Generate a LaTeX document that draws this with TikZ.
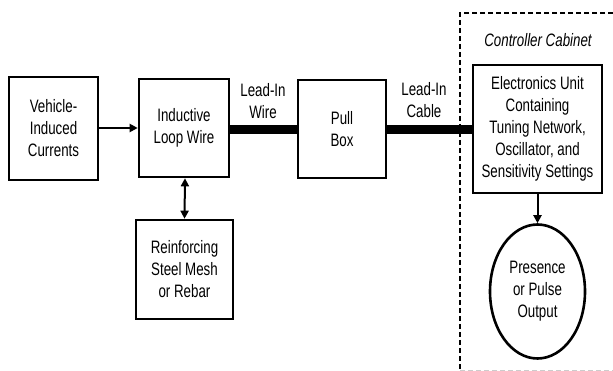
\documentclass[tikz,border=0pt]{standalone}
\usepackage{fontspec}
\setmainfont{Liberation Sans}[FakeStretch=0.74]
\usetikzlibrary{arrows.meta,shapes.geometric}
\begin{document}
\begin{tikzpicture}[x=1pt,y=-1pt,
  blk/.style={draw,line width=2.6pt,rectangle,inner sep=0pt,align=center,font=\fontsize{18}{22}\selectfont},
  lbl/.style={align=center,font=\fontsize{18}{22}\selectfont,inner sep=0pt},
  thin/.style={line width=2pt,-{Triangle[length=8pt,width=8pt]}},
  bar/.style={line width=9pt},
  cab/.style={line width=2pt,dash pattern=on 5pt off 3pt}]
\useasboundingbox (0,0) rectangle (613,371);
\node[blk,minimum width=89pt,minimum height=103pt] (veh) at (53.5,128.5) {Vehicle-\\Induced\\Currents};
\node[blk,minimum width=90pt,minimum height=98pt] (loop) at (184,128) {Inductive\\Loop Wire};
\node[blk,minimum width=88pt,minimum height=98pt] (pull) at (342,129) {Pull\\Box};
\node[blk,minimum width=129pt,minimum height=128pt] (elec) at (537.5,129) {Electronics Unit\\Containing\\Tuning Network,\\Oscillator, and\\Sensitivity Settings};
\node[blk,minimum width=97pt,minimum height=99pt] (reinf) at (184.5,269.5) {Reinforcing\\Steel Mesh\\or Rebar};
\node[blk,ellipse,minimum width=95pt,minimum height=134pt] (out) at (537.5,291.5) {Presence\\or Pulse\\Output};
\node[lbl] (lw) at (263,101) {Lead-In\\Wire};
\node[lbl] (lc) at (424,100) {Lead-In\\Cable};
\node[lbl,font=\fontsize{18}{22}\selectfont\itshape] (cc) at (538,40) {Controller Cabinet};
\coordinate (c1) at (613,13);
\coordinate (c2) at (460,13);
\coordinate (c3) at (460,371);
\coordinate (c4) at (460,370);
\coordinate (c5) at (613,370);
\draw[cab] (c1) -- (c2) -- (c3);
\draw[line width=1pt,dash pattern=on 5pt off 3pt,black!20] (c4) -- (c5);
\draw[thin] (veh.east |- 0,128) -- (loop.west |- 0,128);
\draw[bar] (loop.east |- 0,130) -- (pull.west |- 0,130);
\draw[bar] (pull.east |- 0,130) -- (elec.west |- 0,130);
\draw[line width=2pt,{Triangle[length=8pt,width=8pt]}-{Triangle[length=8pt,width=8pt]}] (loop.south) ++(1,0) coordinate (ls) -- (reinf.north);
\draw[thin] (elec.south) -- (out.north);
\end{tikzpicture}
\end{document}
